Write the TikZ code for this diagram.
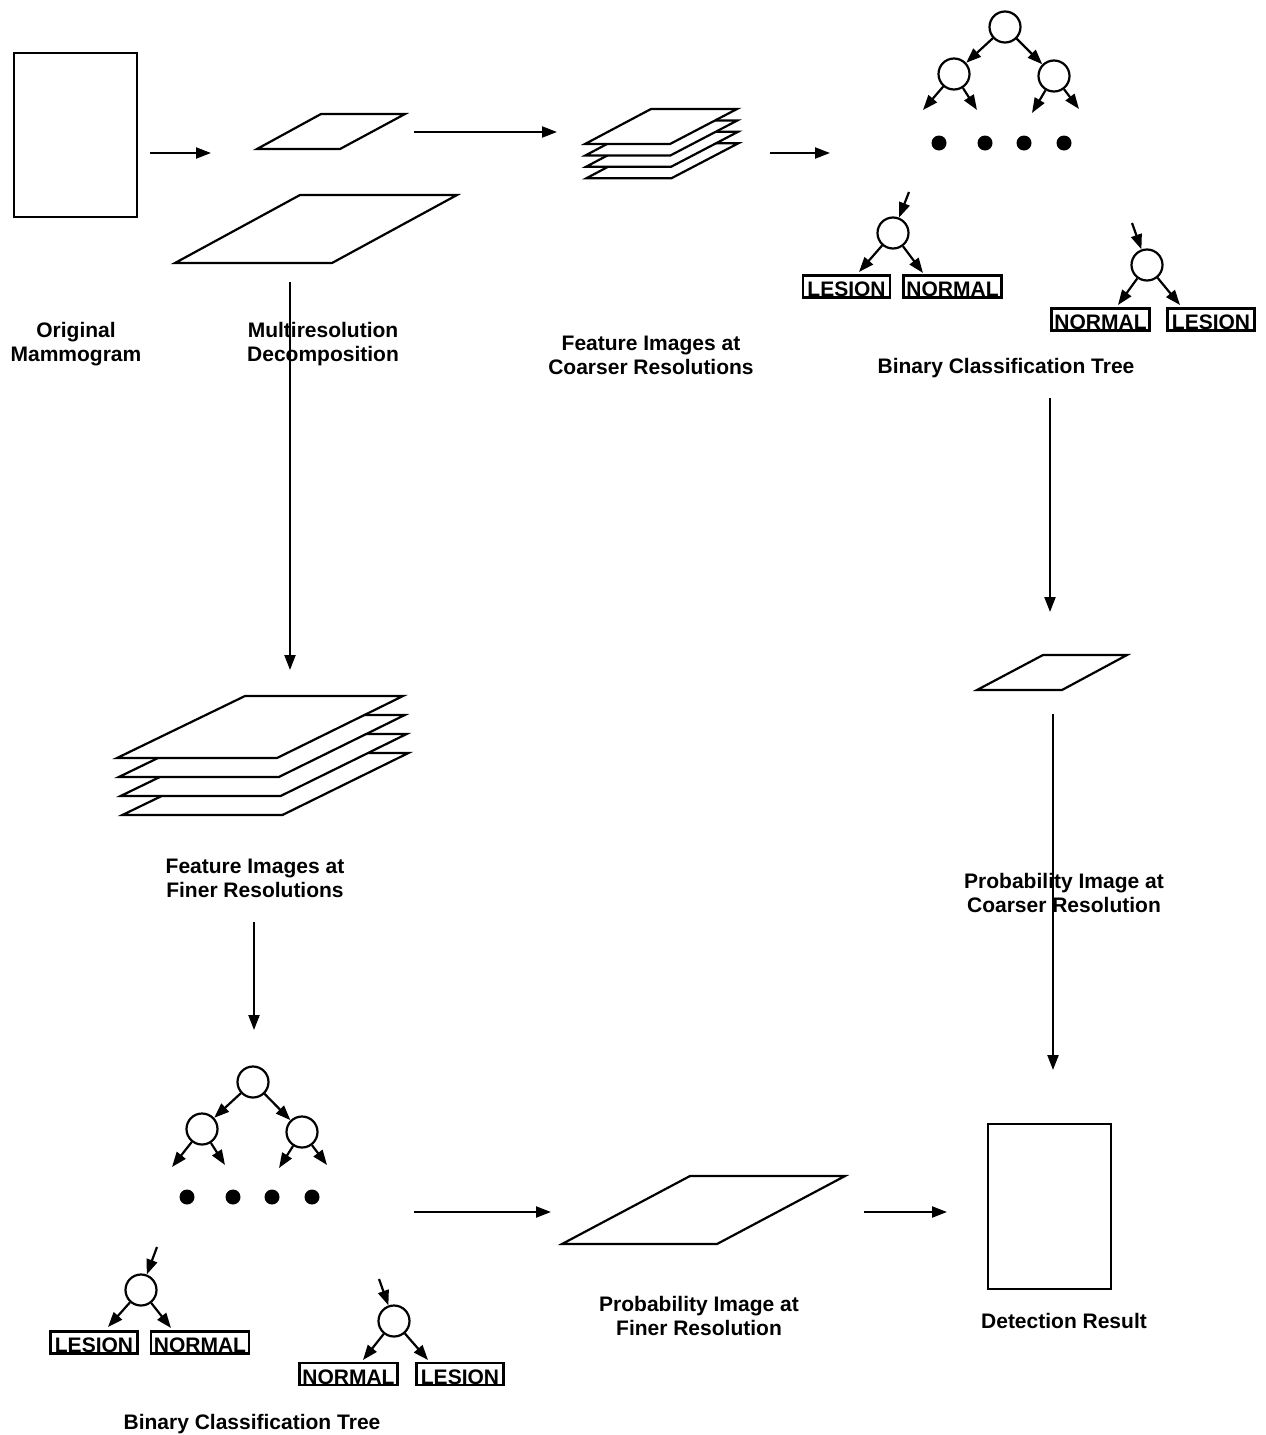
\documentclass[tikz,border=0pt]{standalone}
\usepackage{fontspec}
\setmainfont{Liberation Sans}
\usetikzlibrary{arrows.meta}
\begin{document}
\begin{tikzpicture}[x=1pt,y=-1pt,
  line width=2.2pt,
  arr/.style={-{Triangle[length=15pt,width=11pt]}},
  lbl/.style={font=\fontsize{21}{24}\selectfont\bfseries, align=center, inner sep=0pt},
  box/.style={draw, font=\fontsize{21}{24}\selectfont\bfseries, inner xsep=2pt, inner ysep=0pt, text height=21pt, text depth=1pt},
  boxL/.style={box, minimum width=87pt},
  boxN/.style={box, minimum width=98pt},
  nd/.style={draw, circle, minimum size=31pt, inner sep=0pt},
  dotn/.style={fill, circle, minimum size=15pt, inner sep=0pt},
  img/.style={draw, fill=white, line join=miter},
  frame/.style={draw, minimum width=123pt, minimum height=164pt, inner sep=0pt}]
\useasboundingbox (0,0) rectangle (1266,1435);

% ---------- frames ----------
\node[frame] (orig) at (75.5,135) {};
\node[frame, minimum height=165pt] (det) at (1049.5,1206.5) {};

% ---------- images (parallelograms) ----------
% multiresolution decomposition
\draw[img] (321,114) -- (405,114) -- (340,149) -- (257,149) -- cycle;
\draw[img] (300,195) -- (457,195) -- (332,263) -- (175,263) -- cycle;
% coarser stack
\foreach \k in {3,2,1,0}{
  \draw[img,shift={(0.5*\k,11.4*\k)}] (651,109) -- (737,109) -- (670,144) -- (585,144) -- cycle;
}
% finer stack
\foreach \k in {3,2,1,0}{
  \draw[img,shift={(1.8*\k,19*\k)}] (245,696) -- (403,696) -- (277,758) -- (117,758) -- cycle;
}
% probability images
\draw[img] (1043,655) -- (1127,655) -- (1062,690) -- (977,690) -- cycle;
\draw[img] (690,1176) -- (845,1176) -- (717,1244) -- (562,1244) -- cycle;

% ---------- labels ----------
\node[lbl] (lorig) at (76,344) {Original\\Mammogram};
\node[lbl] (lmulti) at (323,344) {Multiresolution\\Decomposition};
\node[lbl] (lcoarse) at (651,355) {Feature Images at\\Coarser Resolutions};
\node[lbl] (lbct1) at (1006,368) {Binary Classification Tree};
\node[lbl] (lfiner) at (255,878) {Feature Images at\\Finer Resolutions};
\node[lbl] (lbct2) at (252,1424) {Binary Classification Tree};
\node[lbl] (lpfine) at (699,1316) {Probability Image at\\Finer Resolution};
\node[lbl] (ldet) at (1064,1321) {Detection Result};
\node[lbl] (lpcoarse) at (1064,893) {Probability Image at\\Coarser Resolution};

% ---------- main flow arrows ----------
\coordinate (a1s) at (150,153);  \coordinate (a1e) at (211,153);
\coordinate (a2s) at (414,132);  \coordinate (a2e) at (557,132);
\coordinate (a3s) at (770,153);  \coordinate (a3e) at (830,153);
\coordinate (a4s) at (290,282);  \coordinate (a4e) at (290,670);
\coordinate (a5s) at (254,922);  \coordinate (a5e) at (254,1030);
\coordinate (a6s) at (1050,398); \coordinate (a6e) at (1050,612);
\coordinate (a7s) at (1053,714); \coordinate (a7e) at (1053,1070);
\coordinate (a8s) at (414,1212); \coordinate (a8e) at (551,1212);
\coordinate (a9s) at (864,1212); \coordinate (a9e) at (947,1212);
\foreach \i in {1,...,9}{ \draw[arr] (a\i s) -- (a\i e); }

% ---------- top classification tree ----------
\node[nd] (tr) at (1005,27) {};
\node[nd] (tl) at (954,74) {};
\node[nd] (trr) at (1054,76) {};
\coordinate (tl1) at (923,110); \coordinate (tl2) at (977,110);
\coordinate (tr1) at (1032,113); \coordinate (tr2) at (1079,109);
\draw[arr] (tr) -- (tl);
\draw[arr] (tr) -- (trr);
\draw[arr] (tl) -- (tl1);
\draw[arr] (tl) -- (tl2);
\draw[arr] (trr) -- (tr1);
\draw[arr] (trr) -- (tr2);
\node[dotn] (td1) at (939,143) {};
\node[dotn] (td2) at (985,143) {};
\node[dotn] (td3) at (1024,143) {};
\node[dotn] (td4) at (1064,143) {};

% top leaf trees
\coordinate (ti1) at (909,192);
\node[nd] (tc1) at (893,233) {};
\coordinate (te1) at (859,272); \coordinate (te2) at (923,273);
\draw[arr] (ti1) -- (tc1);
\draw[arr] (tc1) -- (te1);
\draw[arr] (tc1) -- (te2);
\node[boxL] (tles1) at (846.5,286.5) {LESION};
\node[boxN] (tnor1) at (952.5,286.5) {NORMAL};

\coordinate (ti2) at (1132,223);
\node[nd] (tc2) at (1147,265) {};
\coordinate (te3) at (1118,305); \coordinate (te4) at (1180,305);
\draw[arr] (ti2) -- (tc2);
\draw[arr] (tc2) -- (te3);
\draw[arr] (tc2) -- (te4);
\node[boxN] (tnor2) at (1100.5,319.5) {NORMAL};
\node[boxL] (tles2) at (1211,319.5) {LESION};

% ---------- bottom classification tree ----------
\node[nd] (br) at (253,1082) {};
\node[nd] (bl) at (202,1129) {};
\node[nd] (brr) at (302,1132) {};
\coordinate (bl1) at (172,1167); \coordinate (bl2) at (225,1165);
\coordinate (br1) at (279,1168); \coordinate (br2) at (327,1165);
\draw[arr] (br) -- (bl);
\draw[arr] (br) -- (brr);
\draw[arr] (bl) -- (bl1);
\draw[arr] (bl) -- (bl2);
\draw[arr] (brr) -- (br1);
\draw[arr] (brr) -- (br2);
\node[dotn] (bd1) at (187,1197) {};
\node[dotn] (bd2) at (233,1197) {};
\node[dotn] (bd3) at (272,1197) {};
\node[dotn] (bd4) at (312,1197) {};

% bottom leaf trees
\coordinate (bi1) at (157,1247);
\node[nd] (bc1) at (141,1290) {};
\coordinate (be1) at (108,1327); \coordinate (be2) at (171,1328);
\draw[arr] (bi1) -- (bc1);
\draw[arr] (bc1) -- (be1);
\draw[arr] (bc1) -- (be2);
\node[boxL] (bles1) at (94,1342.5) {LESION};
\node[boxN] (bnor1) at (200,1342.5) {NORMAL};

\coordinate (bi2) at (379,1279);
\node[nd] (bc2) at (394,1321) {};
\coordinate (be3) at (363,1360); \coordinate (be4) at (428,1360);
\draw[arr] (bi2) -- (bc2);
\draw[arr] (bc2) -- (be3);
\draw[arr] (bc2) -- (be4);
\node[boxN] (bnor2) at (348.5,1374) {NORMAL};
\node[boxL] (bles2) at (460,1374) {LESION};
\end{tikzpicture}
\end{document}
